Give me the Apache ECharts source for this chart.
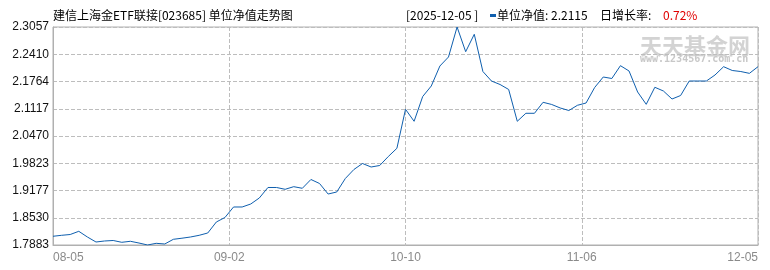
<!DOCTYPE html>
<html>
<head>
<meta charset="utf-8">
<script src="https://cdn.jsdelivr.net/npm/echarts/dist/echarts.min.js"></script>
<style>
  html, body { margin: 0; padding: 0; background: #fff; }
  #chart { width: 770px; height: 270px; }
</style>
</head>
<body>
<div id="chart"></div>
<script>
// ---- data ----
const chartTitle = '建信上海金ETF联接[023685] 单位净值走势图';
const reportDate = '2025-12-05';
const dailyGrowth = '0.72%';
const xTickLabels = ['08-05', '09-02', '10-10', '11-06', '12-05'];
const yTickLabels = ['1.7883', '1.8530', '1.9177', '1.9823', '2.0470', '2.1117', '2.1764', '2.2410', '2.3057'];
const navValues = [
  1.8090, 1.8113, 1.8132, 1.8208, 1.8073, 1.7954, 1.7978, 1.7990, 1.7947, 1.7971,
  1.7930, 1.7883, 1.7923, 1.7907, 1.8018, 1.8044, 1.8073, 1.8113, 1.8168, 1.8429,
  1.8536, 1.8785, 1.8785, 1.8856, 1.8999, 1.9248, 1.9248, 1.9205, 1.9267, 1.9229,
  1.9438, 1.9343, 1.9093, 1.9141, 1.9461, 1.9675, 1.9817, 1.9734, 1.9770, 1.9983,
  2.0178, 2.1104, 2.0819, 2.1407, 2.1657, 2.2131, 2.2345, 2.3057, 2.2471, 2.2884,
  2.2001, 2.1775, 2.1692, 2.1574, 2.0819, 2.1009, 2.1009, 2.1270, 2.1218, 2.1135,
  2.1075, 2.1199, 2.1253, 2.1621, 2.1870, 2.1835, 2.2139, 2.2013, 2.1514, 2.1222,
  2.1626, 2.1538, 2.1348, 2.1431, 2.1775, 2.1775, 2.1775, 2.1918, 2.2115, 2.2025,
  2.2000, 2.1957, 2.2115
];

// ---- chart ----
const yMin = parseFloat(yTickLabels[0]);
const yMax = parseFloat(yTickLabels[yTickLabels.length - 1]);
const xMax = navValues.length - 1;
const xInterval = xMax / (xTickLabels.length - 1);
const latest = navValues[navValues.length - 1].toFixed(4);

const gridColor = '#bdbdbd';
const axisColor = '#b0b0b0';
const cjk = '"Noto Sans CJK SC", "Liberation Sans", sans-serif';

const chart = echarts.init(document.getElementById('chart'), null, { renderer: 'canvas' });
chart.setOption({
  animation: false,
  backgroundColor: '#ffffff',
  grid: {
    left: 53, right: 12, top: 27, bottom: 25,
    show: true, borderColor: axisColor, borderWidth: 1, containLabel: false
  },
  xAxis: {
    type: 'value',
    min: 0, max: xMax, interval: xInterval,
    axisLine: { show: true, lineStyle: { color: axisColor, width: 1 } },
    axisTick: { show: false },
    splitLine: { show: true, lineStyle: { color: gridColor, type: [4, 2], width: 1 } },
    axisLabel: {
      color: '#8a8a8a', fontSize: 12, margin: 7,
      fontFamily: '"Liberation Sans", sans-serif',
      showMinLabel: true, showMaxLabel: true,
      alignMinLabel: 'left', alignMaxLabel: 'right',
      formatter: v => xTickLabels[Math.round(v / xInterval)] || ''
    }
  },
  yAxis: [
    { type: 'value', min: yMin, max: yMax, show: false },
    {
      type: 'value', position: 'left',
      min: 0, max: yTickLabels.length - 1, interval: 1,
      axisLine: { show: true, lineStyle: { color: axisColor, width: 1 } },
      axisTick: { show: false },
      splitLine: { show: true, lineStyle: { color: gridColor, type: [4, 2], width: 1 } },
      axisLabel: {
        color: '#111', fontSize: 12, margin: 4,
        fontFamily: '"Liberation Sans", sans-serif',
        showMinLabel: true, showMaxLabel: true,
        formatter: v => yTickLabels[Math.round(v)] || ''
      }
    }
  ],
  graphic: [
    { type: 'text', x: 640, y: 46, z: 0, silent: true,
      style: { text: '天天基金网', font: 'bold 22px ' + cjk, fill: '#d3d3d3', verticalAlign: 'middle' } },
    { type: 'text', x: 640, y: 59.5, z: 0, silent: true,
      style: { text: 'www.1234567.com.cn', font: 'bold 10px "DejaVu Sans Mono", monospace', fill: '#c8c8c8', verticalAlign: 'middle' } },
    { type: 'text', x: 53, y: 15, z: 10,
      style: { text: chartTitle, font: '12px ' + cjk, fill: '#000', verticalAlign: 'middle' } },
    { type: 'text', x: 406, y: 15, z: 10,
      style: { text: '[' + reportDate + ' ]', font: '12px ' + cjk, fill: '#000', verticalAlign: 'middle' } },
    { type: 'rect', z: 10, shape: { x: 490, y: 14, width: 6, height: 3 }, style: { fill: '#0f5fae' } },
    { type: 'text', x: 497, y: 15, z: 10,
      style: { text: '单位净值: ' + latest, font: '12px ' + cjk, fill: '#000', verticalAlign: 'middle' } },
    { type: 'text', x: 600, y: 15, z: 10,
      style: { text: '日增长率:', font: '12px ' + cjk, fill: '#000', verticalAlign: 'middle' } },
    { type: 'text', x: 663, y: 15, z: 10,
      style: { text: dailyGrowth, font: '12px ' + cjk, fill: '#e00000', verticalAlign: 'middle' } }
  ],
  series: [{
    type: 'line',
    xAxisIndex: 0, yAxisIndex: 0,
    data: navValues.map((v, i) => [i, v]),
    showSymbol: false,
    symbol: 'none',
    z: 5,
    lineStyle: { color: '#0f5fae', width: 1 }
  }]
});
</script>
</body>
</html>
